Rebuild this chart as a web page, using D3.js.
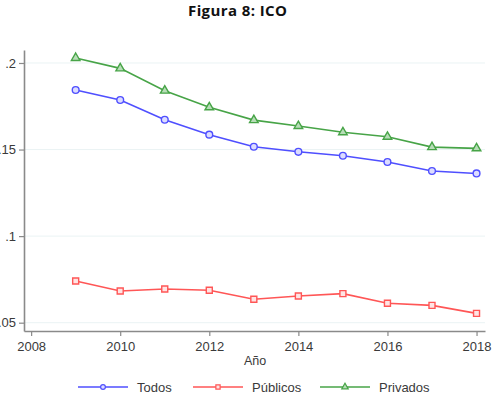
<!DOCTYPE html>
<html>
<head>
<meta charset="utf-8">
<script src="https://cdn.jsdelivr.net/npm/d3@7"></script>
<style>
  html, body { margin: 0; padding: 0; background: #fff; }
  svg { display: block; }
</style>
</head>
<body>
<div id="chart"></div>
<script>
// Chart data
const years = [2009, 2010, 2011, 2012, 2013, 2014, 2015, 2016, 2017, 2018];
const todos = [.1844, .1786, .1672, .1586, .1516, .1487, .1464, .1428, .1376, .1362];
const publicos = [.0741, .0683, .0695, .0687, .0635, .0654, .0668, .0612, .0600, .0554];
const privados = [.2029, .1969, .1840, .1744, .1670, .1636, .1600, .1574, .1514, .1507];
const xTicks = [2008, 2010, 2012, 2014, 2016, 2018];
const yTicks = [.05, .1, .15, .2];
const yTickLabels = ['.05', '.1', '.15', '.2'];
const seriesNames = ['Todos', 'Públicos', 'Privados'];

const width = 493, height = 397;
const margin = { top: 50, right: 8, bottom: 66, left: 24 };

const series = [
  { name: seriesNames[0], values: todos, color: '#4f4fff', fill: '#dcdcff', symbol: d3.symbolCircle, size: 36 },
  { name: seriesNames[1], values: publicos, color: '#ff5656', fill: '#ffe4e4', symbol: d3.symbolSquare, size: 36 },
  { name: seriesNames[2], values: privados, color: '#47a447', fill: '#b8ddb8', symbol: d3.symbolTriangle, size: 32 }
];

const svg = d3.select('#chart')
  .append('svg')
    .attr('width', width)
    .attr('height', height)
    .style('font-family', '"Liberation Sans", Arial, sans-serif');

// Title
svg.append('text')
  .attr('x', 237.5)
  .attr('y', 15.5)
  .attr('text-anchor', 'middle')
  .attr('textLength', 99)
  .attr('lengthAdjust', 'spacing')
  .style('font-family', '"Open Sans", "Noto Sans", sans-serif')
  .style('font-weight', 'bold')
  .style('font-size', '15px')
  .style('fill', '#111')
  .text('Figura 8: ICO');

// Scales
const x = d3.scaleLinear()
  .domain([2007.84, 2018.19])
  .range([margin.left, width - margin.right]);

const y = d3.scaleLinear()
  .domain([.0452, .2075])
  .range([height - margin.bottom, margin.top]);

// Gridlines
svg.append('g')
  .selectAll('line')
  .data(yTicks)
  .join('line')
    .attr('x1', margin.left)
    .attr('x2', width - margin.right)
    .attr('y1', d => y(d))
    .attr('y2', d => y(d))
    .attr('stroke', '#eaf3f4')
    .attr('stroke-width', 1);

// Axes
const xAxis = svg.append('g')
  .attr('transform', `translate(0, ${height - margin.bottom})`)
  .call(d3.axisBottom(x).tickValues(xTicks).tickFormat(d3.format('d')).tickSize(5).tickSizeOuter(0));

const yAxis = svg.append('g')
  .attr('transform', `translate(${margin.left}, 0)`)
  .call(d3.axisLeft(y).tickValues(yTicks).tickFormat((d, i) => yTickLabels[i]).tickSize(5).tickSizeOuter(0));

[xAxis, yAxis].forEach(g => {
  g.select('.domain').attr('stroke', '#8a8a8a').attr('stroke-width', 1.6);
  g.selectAll('.tick line').attr('stroke', '#8a8a8a').attr('stroke-width', 1.2);
  g.selectAll('.tick text')
    .style('font-size', '13px')
    .style('fill', '#3a3a3a')
    .style('font-family', '"Liberation Sans", Arial, sans-serif');
});
xAxis.selectAll('.tick text').attr('dy', '0.9em');
yAxis.selectAll('.tick text').attr('x', -8);

// Axis title
svg.append('text')
  .attr('x', 255)
  .attr('y', 365)
  .attr('text-anchor', 'middle')
  .style('font-size', '12.5px')
  .style('fill', '#3a3a3a')
  .text('Año');

// Lines & markers
const line = d3.line()
  .x((d, i) => x(years[i]))
  .y(d => y(d));

series.forEach(s => {
  svg.append('path')
    .datum(s.values)
    .attr('fill', 'none')
    .attr('stroke', s.color)
    .attr('stroke-width', 1.6)
    .attr('d', line);

  svg.append('g')
    .selectAll('path')
    .data(s.values)
    .join('path')
      .attr('transform', (d, i) => `translate(${x(years[i])}, ${y(d)})`)
      .attr('d', d3.symbol(s.symbol, s.size))
      .attr('fill', s.fill)
      .attr('stroke', s.color)
      .attr('stroke-width', 1.4);
});

// Legend
const legendX = [78, 193, 320];
const legend = svg.append('g')
  .selectAll('g')
  .data(series)
  .join('g')
    .attr('transform', (d, i) => `translate(${legendX[i]}, 387)`);

legend.append('line')
  .attr('x1', 0)
  .attr('x2', 50)
  .attr('stroke', d => d.color)
  .attr('stroke-width', 1.4);

legend.append('path')
  .attr('transform', 'translate(25, 0)')
  .attr('d', d => d3.symbol(d.symbol, 18)())
  .attr('fill', d => d.fill)
  .attr('stroke', d => d.color)
  .attr('stroke-width', 1.2);

legend.append('text')
  .attr('x', 59)
  .attr('dy', '0.35em')
  .style('font-size', '13px')
  .style('fill', '#3a3a3a')
  .text(d => d.name);
</script>
</body>
</html>
